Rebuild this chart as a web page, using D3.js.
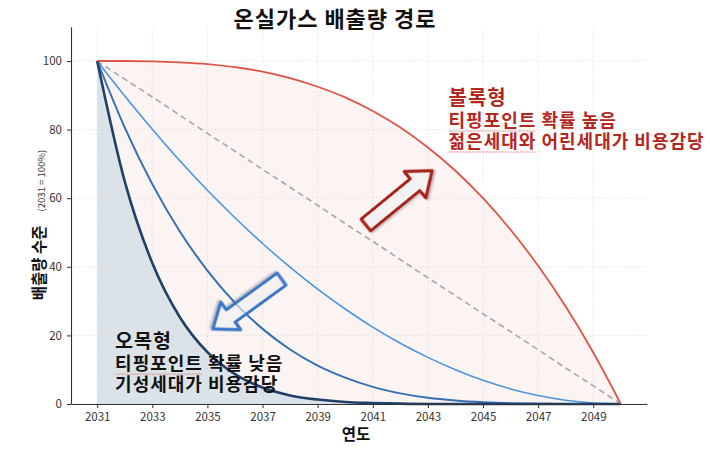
<!DOCTYPE html>
<html>
<head>
<meta charset="utf-8">
<script src="https://cdn.jsdelivr.net/npm/d3@7/dist/d3.min.js"></script>
<style>
  body { margin: 0; background: #fff; }
  svg { display: block; }
</style>
</head>
<body>
<div id="grafico"></div>
<script>
// anos e séries (2031 = 100)
const anos = [2031, 2032, 2033, 2034, 2035, 2036, 2037, 2038, 2039, 2040,
              2041, 2042, 2043, 2044, 2045, 2046, 2047, 2048, 2049, 2050];
const convexo = [100, 100, 99.9, 99.6, 99.1, 98.2, 96.9, 95.0, 92.5, 89.4,
                 85.4, 80.6, 74.8, 68.0, 60.0, 50.8, 40.3, 28.4, 15.0, 0];
const linear = [100, 94.7, 89.5, 84.2, 78.9, 73.7, 68.4, 63.2, 57.9, 52.6,
                47.4, 42.1, 36.8, 31.6, 26.3, 21.1, 15.8, 10.5, 5.3, 0];
const concavoLeve = [100, 89.8, 80.1, 70.9, 62.3, 54.3, 46.8, 39.9, 33.5, 27.7,
                     22.4, 17.7, 13.6, 10.0, 6.9, 4.4, 2.5, 1.1, 0.3, 0];
const concavoMedio = [100, 80.6, 64.1, 50.3, 38.9, 29.5, 21.9, 15.9, 11.2, 7.7,
                      5.0, 3.1, 1.8, 1.0, 0.5, 0.2, 0.1, 0, 0, 0];
const concavoForte = [100, 64.9, 41.1, 25.3, 15.1, 8.7, 4.8, 2.5, 1.3, 0.6,
                      0.3, 0.1, 0, 0, 0, 0, 0, 0, 0, 0];

const ticksX = [2031, 2033, 2035, 2037, 2039, 2041, 2043, 2045, 2047, 2049];
const ticksY = [0, 20, 40, 60, 80, 100];

const titulo = "온실가스 배출량 경로";
const rotuloX = "연도";
const rotuloY = "배출량 수준";
const rotuloYSub = "(2031 = 100%)";
const textoConvexo = ["볼록형", "티핑포인트 확률 높음", "젊은세대와 어린세대가 비용감당"];
const textoConcavo = ["오목형", "티핑포인트 확률 낮음", "기성세대가 비용감당"];

const fonte = "'Noto Sans CJK KR', 'Noto Sans', sans-serif";
const largura = 710, altura = 460;

const svg = d3.select("#grafico").append("svg")
    .attr("width", largura)
    .attr("height", altura);

const defs = svg.append("defs");
const sombra = defs.append("filter").attr("id", "sombra")
    .attr("x", "-20%").attr("y", "-20%").attr("width", "140%").attr("height", "140%");
sombra.append("feDropShadow")
    .attr("dx", 1).attr("dy", 1.5).attr("stdDeviation", 1.2)
    .attr("flood-color", "#000").attr("flood-opacity", 0.3);

const x = d3.scaleLinear().domain([2030.05, 2050.95]).range([71, 647]);
const y = d3.scaleLinear().domain([0, 110]).range([404, 26.7]);

const serie = vals => anos.map((a, i) => ({ ano: a, v: vals[i] }));

const linha = d3.line()
    .x(d => x(d.ano))
    .y(d => y(d.v))
    .curve(d3.curveMonotoneX);

const area = d3.area()
    .x(d => x(d.ano))
    .y0(y(0))
    .y1(d => y(d.v))
    .curve(d3.curveMonotoneX);

// áreas preenchidas
svg.append("path")
    .attr("d", area(serie(convexo)))
    .style("fill", "#fcf3f3");

svg.append("path")
    .attr("d", area(serie(concavoForte)))
    .style("fill", "#dbe3e8");

// grade pontilhada
const grade = svg.append("g").attr("class", "grade");
grade.selectAll(".gx").data(ticksX).enter().append("line")
    .attr("x1", d => x(d)).attr("x2", d => x(d))
    .attr("y1", y.range()[0]).attr("y2", y.range()[1])
    .style("stroke", "#d8d8d8").style("stroke-width", 0.7)
    .style("stroke-dasharray", "1.5,2");
grade.selectAll(".gy").data(ticksY).enter().append("line")
    .attr("x1", x.range()[0]).attr("x2", x.range()[1])
    .attr("y1", d => y(d)).attr("y2", d => y(d))
    .style("stroke", "#d8d8d8").style("stroke-width", 0.7)
    .style("stroke-dasharray", "1.5,2");

// linhas
svg.append("path")
    .attr("d", linha(serie(linear)))
    .style("fill", "none").style("stroke", "#a3a8ab")
    .style("stroke-width", 1.6).style("stroke-dasharray", "6,4");

const linhas = [
    { vals: concavoLeve, cor: "#4b95df", esp: 1.6 },
    { vals: concavoMedio, cor: "#3570b4", esp: 2 },
    { vals: concavoForte, cor: "#1f4068", esp: 2.6 },
    { vals: convexo, cor: "#de5548", esp: 1.8 }
];
linhas.forEach(l => {
    svg.append("path")
        .attr("d", linha(serie(l.vals)))
        .style("fill", "none")
        .style("stroke", l.cor)
        .style("stroke-width", l.esp)
        .style("stroke-linejoin", "round");
});

// eixos
const eixoX = svg.append("g")
    .attr("transform", `translate(0, ${y(0)})`)
    .call(d3.axisBottom(x).tickValues(ticksX).tickFormat(d3.format("d"))
        .tickSize(4).tickSizeOuter(0).tickPadding(5));
const eixoY = svg.append("g")
    .attr("transform", `translate(${x.range()[0]}, 0)`)
    .call(d3.axisLeft(y).tickValues(ticksY).tickSize(4).tickSizeOuter(0).tickPadding(5));

[eixoX, eixoY].forEach(g => {
    g.select(".domain").style("stroke", "#333").style("stroke-width", 1.1);
    g.selectAll(".tick line").style("stroke", "#333");
    g.selectAll(".tick text")
        .style("font-family", fonte)
        .style("font-size", "11.5px")
        .style("fill", "#333");
});

// setas
function desenharSeta(a0, v0, a1, v1, cor) {
    const x0 = x(a0), y0 = y(v0), x1 = x(a1), y1 = y(v1);
    const comp = Math.hypot(x1 - x0, y1 - y0);
    const ang = Math.atan2(y1 - y0, x1 - x0) * 180 / Math.PI;
    const meia = 7.5, cabeca = 17, ponta = 22;
    const pts = [[0, -meia], [comp - ponta, -meia], [comp - ponta, -cabeca], [comp, 0],
                 [comp - ponta, cabeca], [comp - ponta, meia], [0, meia]];
    svg.append("polygon")
        .attr("points", pts.map(p => p.join(",")).join(" "))
        .attr("transform", `translate(${x0},${y0}) rotate(${ang})`)
        .style("fill", "rgba(255,255,255,0.55)")
        .style("stroke", cor)
        .style("stroke-width", 3.2)
        .style("stroke-linejoin", "round")
        .attr("filter", "url(#sombra)");
}
desenharSeta(2040.75, 52.2, 2043.15, 68.0, "#a8211b");
desenharSeta(2037.69, 36.4, 2035.2, 21.9, "#3a79c8");

// textos de anotação (com o sublinhado ondulado do corretor, como na figura)
function onda(x0, x1, yb) {
    let d = `M${x0},${yb}`;
    for (let xx = x0 + 1.5, k = 0; xx <= x1; xx += 1.5, k++) {
        d += `L${xx},${yb + (k % 2 === 0 ? 1.1 : 0)}`;
    }
    return d;
}

function anotar(linhasTexto, a, bases, tamanhos, cor, sublinhar) {
    linhasTexto.forEach((t, i) => {
        const el = svg.append("text")
            .attr("x", x(a))
            .attr("y", bases[i])
            .text(t)
            .style("font-family", fonte)
            .style("font-weight", "bold")
            .style("font-size", tamanhos[i] + "px")
            .style("letter-spacing", "1px")
            .style("fill", cor);
        if (sublinhar[i]) {
            const w = el.node().getSubStringLength(0, sublinhar[i]);
            svg.append("path")
                .attr("d", onda(x(a), x(a) + w, bases[i] + 3.5))
                .style("fill", "none")
                .style("stroke", "#e87070")
                .style("stroke-width", 0.6);
        }
    });
}
anotar(textoConvexo, 2043.75, [105, 127, 148], [20, 18, 18], "#b5261e", [0, 5, 5]);
anotar(textoConcavo, 2031.65, [348, 370, 391], [19.5, 18, 18], "#111", [0, 5, 0]);

// títulos
svg.append("text")
    .attr("x", 335).attr("y", 27)
    .attr("text-anchor", "middle")
    .text(titulo)
    .style("font-family", fonte)
    .style("font-weight", "bold")
    .style("font-size", "22px")
    .style("letter-spacing", "1px")
    .style("fill", "#111");

svg.append("text")
    .attr("x", 356).attr("y", 440)
    .attr("text-anchor", "middle")
    .text(rotuloX)
    .style("font-family", fonte)
    .style("font-weight", "bold")
    .style("font-size", "15.5px")
    .style("fill", "#111");

const ty = svg.append("text")
    .attr("transform", "translate(45, 225) rotate(-90)")
    .attr("text-anchor", "middle")
    .style("font-family", fonte)
    .style("fill", "#111");
ty.append("tspan")
    .text(rotuloY)
    .style("font-weight", "bold")
    .style("font-size", "15.5px");
ty.append("tspan")
    .attr("dx", 14)
    .text(rotuloYSub)
    .style("font-size", "9.5px")
    .style("fill", "#333");
</script>
</body>
</html>
